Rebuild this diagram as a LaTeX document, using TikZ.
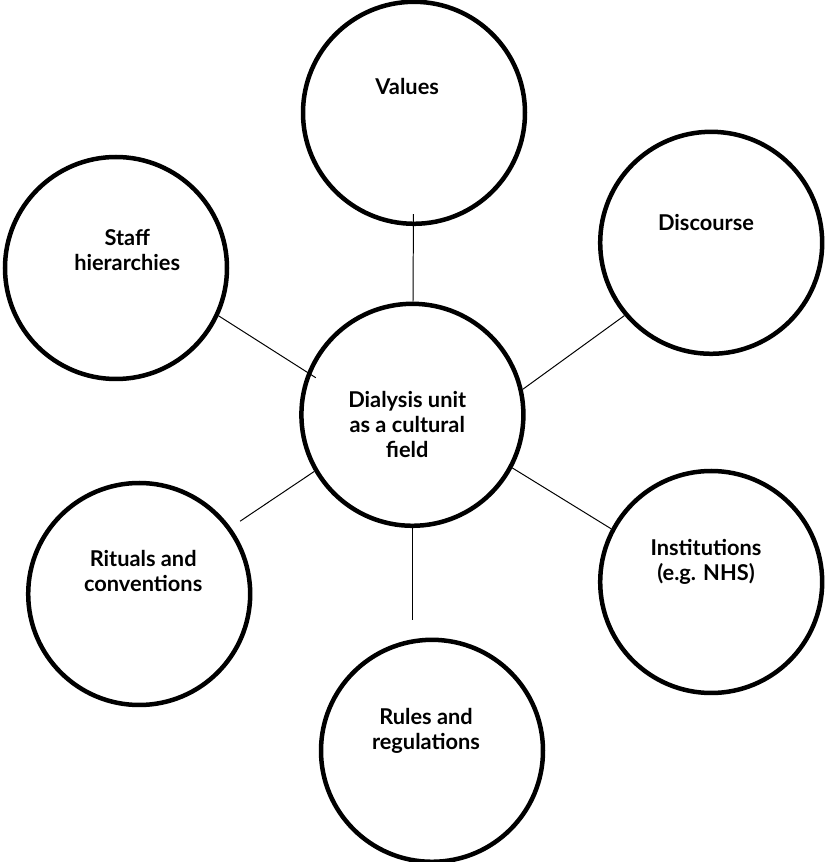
\documentclass[tikz,border=0pt]{standalone}
\usepackage{fontspec}
\setmainfont{Lato}
\usepackage{tikz}
\usetikzlibrary{positioning}

\begin{document}
\begin{tikzpicture}[
    field/.style={circle, draw=black, line width=3.2pt, minimum size=5.55cm, inner sep=0pt},
    field text/.style={align=center, font=\fontsize{15.5}{17.7}\selectfont\bfseries, inner sep=0pt},
    connection/.style={draw=black, line width=0.7pt}
]
    \useasboundingbox (0,0) rectangle (20.65,21.55);

    % Centre
    \node[field] (centre) at (10.31, 11.18) {};
    \node[field text] (centre-text) at (10.18, 10.93) {Dialysis unit\\as a cultural\\field};

    % Outer fields
    \node[field] (values) at (10.35, 18.73) {};
    \node[field text] (values-text) at (10.18, 19.38) {Values};

    \node[field] (discourse) at (17.78, 15.48) {};
    \node[field text] (discourse-text) at (17.65, 15.98) {Discourse};

    \node[field] (staff) at (2.9, 14.85) {};
    \node[field text] (staff-text) at (3.18, 15.3) {Staff\\hierarchies};

    \node[field] (rituals) at (3.48, 6.7) {};
    \node[field text] (rituals-text) at (3.58, 7.28) {Rituals and\\conventions};

    \node[field] (institutions) at (17.78, 7.0) {};
    \node[field text] (institutions-text) at (17.65, 7.5) {Institutions\\(e.g. NHS)};

    \node[field] (rules) at (10.8, 2.78) {};
    \node[field text] (rules-text) at (10.65, 3.28) {Rules and\\regulations};

    % Connections
    \draw[connection, shorten <=-0.3cm] (values) -- (centre);
    \draw[connection, shorten >=-0.25cm] (staff.335) -- (centre.158);
    \draw[connection] (centre.13) -- (discourse.220);
    \draw[connection, shorten >=0.28cm] (centre.210) -- (rituals.36);
    \draw[connection] (centre.332) -- (institutions.152);
    \draw[connection, shorten >=0.45cm] (centre) -- (centre |- rules.north);
\end{tikzpicture}
\end{document}
